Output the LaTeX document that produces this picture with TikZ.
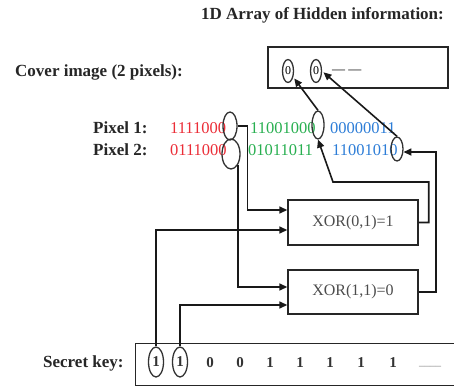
\documentclass[tikz,border=0pt]{standalone}
\usepackage{fontspec}
\setmainfont{Liberation Serif}
\usetikzlibrary{arrows.meta,shapes.geometric,calc}
\definecolor{pixred}{RGB}{235,45,55}
\definecolor{pixgreen}{RGB}{40,175,80}
\definecolor{pixblue}{RGB}{45,125,215}
\newcommand{\myfs}[1]{\fontsize{#1}{#1}\selectfont}
\begin{document}
\begin{tikzpicture}[x=1pt,y=-1pt,
 lbl/.style={font=\myfs{17}\bfseries, inner sep=0pt, anchor=west, text=black!85},
 bits/.style={font=\myfs{16.5}, inner sep=0pt, anchor=west},
 ring/.style={ellipse, draw=black!80, line width=1.3pt, inner sep=0pt},
 keyd/.style={font=\myfs{15}\bfseries, inner sep=0pt, text=black!80},
 conn/.style={draw=black!90, line width=1.6pt, -{Triangle[length=8pt,width=7pt]}},
 box/.style={draw=black!85, line width=1.4pt, rectangle, inner sep=0pt},
 ]
\useasboundingbox (0,0) rectangle (454,387);
% title and cover image
\node[lbl, anchor=center] (title) at (322.5,15) {1D Array of Hidden information:};
\node[lbl] (coverlbl) at (15,72) {Cover image (2 pixels):};
\node[box, minimum width=180, minimum height=41] (cover) at (358,67.5) {};
\node[ring, minimum width=11, minimum height=23, outer sep=2pt, font=\myfs{12}] (c1) at (288,71) {0};
\node[ring, minimum width=11, minimum height=23, outer sep=2pt, font=\myfs{12}] (c2) at (316,71) {0};
\node[font=\myfs{13}, inner sep=0pt, anchor=west] (dots) at (332,72) {--- ---};
% pixels
\node[lbl] (p1lbl) at (93,128) {Pixel 1:};
\node[lbl] (p2lbl) at (93,150) {Pixel 2:};
\node[bits, text=pixred] (r1) at (170,128) {1111000};
\node[bits, text=pixred] (r2) at (170,150) {0111000};
\node[bits, text=pixgreen] (g1) at (250,128) {11001000};
\node[bits, text=pixgreen] (g2) at (248,150) {01011011};
\node[bits, text=pixblue] (b1) at (330,128) {00000011};
\node[bits, text=pixblue] (b2) at (332,150) {11001010};
\node[ring, minimum width=14, minimum height=28] (er1) at (230,126) {};
\node[ring, minimum width=18, minimum height=30] (er2) at (231,154) {};
\node[ring, minimum width=12, minimum height=28] (eg1) at (318,125) {};
\node[ring, minimum width=12, minimum height=24] (eb2) at (397,149) {};
% XOR boxes
\node[box, minimum width=130, minimum height=45, font=\myfs{16}, text=black!70] (xor1) at (353,222.5) {XOR(0,1)=1};
\node[box, minimum width=130, minimum height=44, font=\myfs{16}, text=black!70] (xor2) at (353,292) {XOR(1,1)=0};
\coordinate (x1a) at ($(xor1.west)+(0,-12.5)$);
\coordinate (x1b) at ($(xor1.west)+(0,7.5)$);
\coordinate (x2a) at ($(xor2.west)+(0,-5)$);
\coordinate (x2b) at ($(xor2.west)+(0,13)$);
\coordinate (bend1) at (333,182);
% secret key
\node[lbl] (keylbl) at (43,363) {Secret key:};
\node[box, minimum width=340, minimum height=42, anchor=north west] (keybox) at (135,343) {};
\node[ring, minimum width=15, minimum height=30, font=\myfs{15}\bfseries, text=black!80] (k1) at (156,362) {1};
\node[ring, minimum width=15, minimum height=30, font=\myfs{15}\bfseries, text=black!80] (k2) at (180,362) {1};
\node[keyd] (k3) at (210,363) {0};
\node[keyd] (k4) at (240,363) {0};
\node[keyd] (k5) at (270,363) {1};
\node[keyd] (k6) at (300,363) {1};
\node[keyd] (k7) at (330,363) {1};
\node[keyd] (k8) at (361,363) {1};
\node[keyd] (k9) at (393,363) {1};
\node[font=\myfs{11}, inner sep=0pt, text=black!50] (kdots) at (430,366) {\_\_\_\_};
% connectors
\draw[conn] (er1.east) -- ++(10,0) |- (x1a);
\draw[conn] (er2.south east) |- (x2a);
\draw[conn] (k1.north) |- (x1b);
\draw[conn] (k2.north) |- (x2b);
\draw[conn] (xor1.east) -- ++(10,0) |- (bend1) -- (eg1.south);
\draw[conn] (xor2.east) -- ++(17,0) |- (eb2.-25);
\draw[conn] (eg1.north) -- (c1.-50);
\draw[conn] (eb2.north) -- (c2.-10);
\end{tikzpicture}
\end{document}
